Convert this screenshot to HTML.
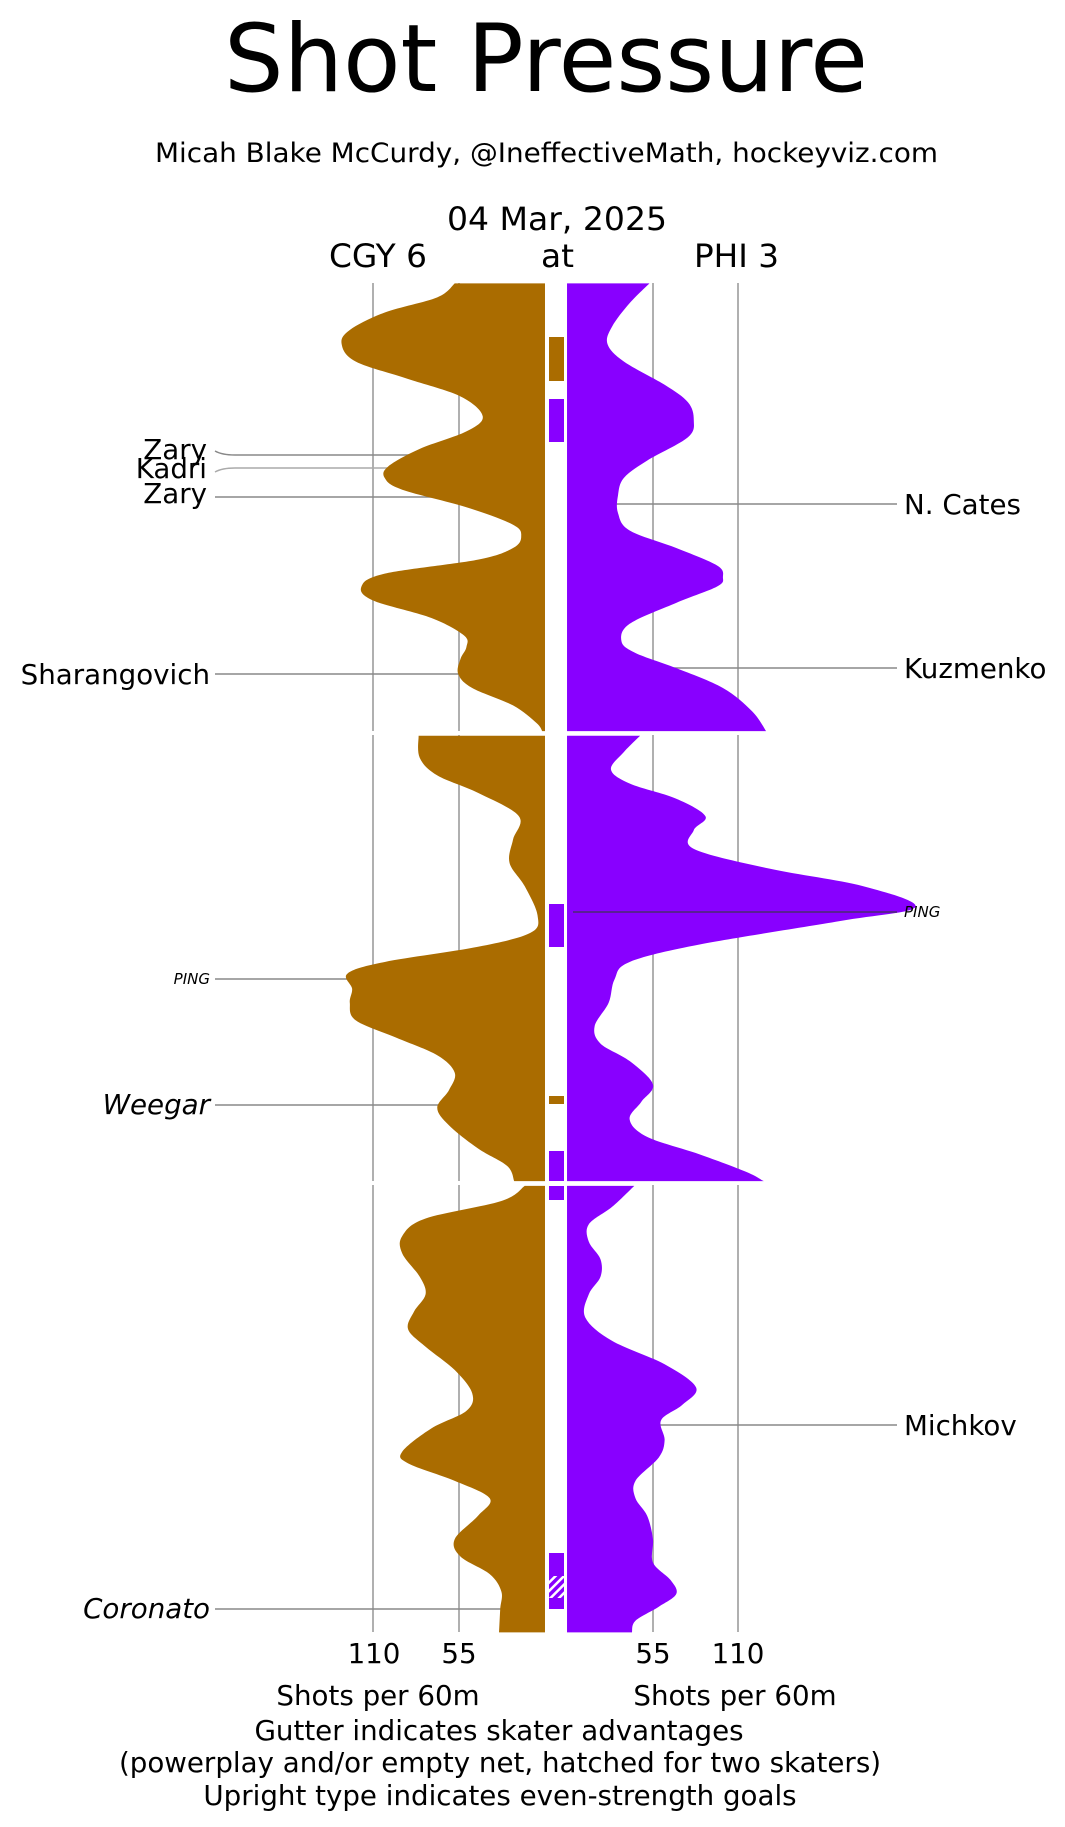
<!DOCTYPE html>
<html><head><meta charset="utf-8"><style>
html,body{margin:0;padding:0;background:#fff;}
svg{display:block;}
text{font-family:"DejaVu Sans","Liberation Sans",sans-serif;fill:#000;}
</style></head><body>
<svg width="1065" height="1827" viewBox="0 0 1065 1827" xmlns="http://www.w3.org/2000/svg">
<defs>
<pattern id="hatch" width="6" height="6" patternUnits="userSpaceOnUse" patternTransform="rotate(45)">
<rect width="6" height="6" fill="#8800ff"/><rect width="2.5" height="6" fill="#fff"/>
</pattern>
</defs>
<text x="224" y="91" font-size="94" textLength="644" lengthAdjust="spacingAndGlyphs">Shot Pressure</text>
<text x="155" y="162" font-size="27" textLength="783" lengthAdjust="spacingAndGlyphs">Micah Blake McCurdy, @IneffectiveMath, hockeyviz.com</text>
<text x="447" y="230" font-size="32" textLength="220" lengthAdjust="spacingAndGlyphs">04 Mar, 2025</text>
<text x="329" y="267" font-size="32" textLength="98" lengthAdjust="spacingAndGlyphs">CGY 6</text>
<text x="541" y="267" font-size="32" textLength="33" lengthAdjust="spacingAndGlyphs">at</text>
<text x="694" y="267" font-size="32" textLength="85" lengthAdjust="spacingAndGlyphs">PHI 3</text>

<g stroke="#b0b0b0" stroke-width="2">
<line x1="373" y1="283" x2="373" y2="731"/><line x1="459" y1="283" x2="459" y2="731"/>
<line x1="653" y1="283" x2="653" y2="731"/><line x1="738" y1="283" x2="738" y2="731"/>
<line x1="373" y1="735" x2="373" y2="1181"/><line x1="459" y1="735" x2="459" y2="1181"/>
<line x1="653" y1="735" x2="653" y2="1181"/><line x1="738" y1="735" x2="738" y2="1181"/>
<line x1="373" y1="1185" x2="373" y2="1632"/><line x1="459" y1="1185" x2="459" y2="1632"/>
<line x1="653" y1="1185" x2="653" y2="1632"/><line x1="738" y1="1185" x2="738" y2="1632"/>
</g>

<g stroke="#888" stroke-width="1.4" fill="none">
<path d="M215,451 Q222,455 235,455 L500,455"/>
<path d="M215,472 Q222,468 235,468 L500,468" stroke="#aaa"/>
<line x1="215" y1="497" x2="500" y2="497"/>
<line x1="215" y1="674" x2="500" y2="674"/>
<line x1="215" y1="979" x2="450" y2="979"/>
<line x1="215" y1="1105" x2="500" y2="1105"/>
<line x1="215" y1="1609" x2="520" y2="1609"/>
<line x1="600" y1="504" x2="897" y2="504"/>
<line x1="600" y1="668" x2="897" y2="668"/>
<line x1="640" y1="1425" x2="897" y2="1425"/>
</g>

<g transform="scale(1.166)">
<path class="sm" data-b="467.4" fill="#aa6c00" d="M467.4,243 L390,243 L375,255 L330,268 L300,283 L293,295 L305,310 L350,325 L395,340 L414,357 L400,370 L360,385 L333,400 L330,410 L345,420 L400,435 L440,450 L447,460 L440,470 L410,480 L330,492 L310,503 L320,515 L370,530 L398,545 L400,555 L395,565 L393,578 L405,590 L440,605 L460,620 L465,627 L467.4,627 Z"/>
<path class="sm" fill="#8800ff" d="M486.3,243 L557,243 L540,260 L525,280 L521,295 L535,310 L570,330 L590,345 L595,360 L590,375 L555,395 L535,410 L530,425 L530,440 L540,455 L580,470 L615,485 L620,495 L615,503 L580,517 L540,535 L533,550 L545,560 L580,573 L620,590 L645,610 L657,627 L486.3,627 Z"/>
<path class="sm" fill="#aa6c00" d="M467.4,631 L359,631 L360,650 L375,665 L410,680 L445,700 L440,720 L437,740 L450,760 L461,785 L455,800 L410,812 L330,825 L298,835 L302,848 L300,860 L305,875 L340,890 L375,905 L390,920 L385,935 L375,950 L385,965 L410,985 L435,1000 L441,1013 L467.4,1013 Z"/>
<path class="sm" fill="#8800ff" d="M486.3,631 L549,631 L535,645 L524,660 L540,672 L580,685 L605,700 L595,712 L595,728 L660,745 L740,760 L785,778 L720,790 L600,810 L540,825 L527,840 L522,860 L510,880 L515,895 L540,910 L560,930 L550,945 L540,960 L555,975 L600,990 L640,1005 L655,1013 L486.3,1013 Z"/>
<path class="sm" fill="#aa6c00" d="M467.4,1017 L450,1017 L430,1030 L365,1045 L345,1060 L345,1075 L360,1095 L365,1110 L355,1125 L350,1140 L365,1155 L390,1175 L405,1195 L400,1210 L370,1225 L345,1245 L350,1255 L390,1270 L420,1285 L410,1300 L390,1320 L395,1335 L420,1350 L430,1365 L429,1380 L428,1400 L467.4,1400 Z"/>
<path class="sm" fill="#8800ff" d="M486.3,1017 L544,1017 L525,1035 L505,1050 L505,1065 L515,1080 L515,1095 L505,1110 L502,1130 L525,1150 L570,1170 L597,1190 L585,1205 L567,1218 L570,1235 L565,1250 L545,1270 L545,1285 L555,1300 L560,1320 L560,1340 L575,1355 L580,1367 L565,1378 L545,1390 L542,1400 L486.3,1400 Z"/>
</g>

<rect x="549" y="337" width="15" height="44" fill="#aa6c00"/>
<rect x="549" y="399" width="15" height="43" fill="#8800ff"/>
<rect x="549" y="904" width="15" height="43" fill="#8800ff"/>
<rect x="549" y="1096" width="15" height="8" fill="#aa6c00"/>
<rect x="549" y="1151" width="15" height="30" fill="#8800ff"/>
<rect x="549" y="1186" width="15" height="14" fill="#8800ff"/>
<rect x="549" y="1553" width="15" height="56" fill="#8800ff"/>
<rect x="549" y="1576" width="15" height="22" fill="url(#hatch)"/>

<line x1="573" y1="912" x2="897" y2="912" stroke="#4a2a70" stroke-width="1.4"/>

<g font-size="27.7">
<text x="207" y="459" text-anchor="end">Zary</text>
<text x="207" y="478" text-anchor="end">Kadri</text>
<text x="207" y="503" text-anchor="end">Zary</text>
<text x="210" y="684" text-anchor="end">Sharangovich</text>
<text x="210" y="1114" text-anchor="end" font-style="italic">Weegar</text>
<text x="210" y="1618" text-anchor="end" font-style="italic">Coronato</text>
<text x="904" y="514">N. Cates</text>
<text x="904" y="678">Kuzmenko</text>
<text x="904" y="1435">Michkov</text>
</g>
<text x="210" y="984" text-anchor="end" font-size="15" font-style="italic">PING</text>
<text x="904" y="917" font-size="15" font-style="italic">PING</text>

<g font-size="27.7" text-anchor="middle">
<text x="374" y="1663">110</text>
<text x="459" y="1663">55</text>
<text x="653" y="1663">55</text>
<text x="738" y="1663">110</text>
<text x="378" y="1705">Shots per 60m</text>
<text x="735" y="1705">Shots per 60m</text>
<text x="499" y="1740">Gutter indicates skater advantages</text>
<text x="500" y="1772">(powerplay and/or empty net, hatched for two skaters)</text>
<text x="500" y="1805">Upright type indicates even-strength goals</text>
</g>
</svg>
<script>
(function(){
var ps=document.querySelectorAll('path.sm');
for(var k=0;k<ps.length;k++){
 var d=ps[k].getAttribute('d').replace(/[MLZ]/g,' ').trim().split(/\s+/);
 var pts=d.map(function(s){var a=s.split(',');return [+a[0],+a[1]];});
 // first two and last point are baseline/top anchors; smooth the middle chain pts[1..n-2]
 var n=pts.length;
 var chain=pts.slice(1,n-1);
 var out='M'+pts[0][0]+','+pts[0][1]+' L'+chain[0][0]+','+chain[0][1];
 for(var i=0;i<chain.length-1;i++){
  var p0=chain[Math.max(0,i-1)],p1=chain[i],p2=chain[i+1],p3=chain[Math.min(chain.length-1,i+2)];
  var c1x=p1[0]+(p2[0]-p0[0])/6,c1y=p1[1]+(p2[1]-p0[1])/6;
  var c2x=p2[0]-(p3[0]-p1[0])/6,c2y=p2[1]-(p3[1]-p1[1])/6;
  out+=' C'+c1x.toFixed(2)+','+c1y.toFixed(2)+' '+c2x.toFixed(2)+','+c2y.toFixed(2)+' '+p2[0]+','+p2[1];
 }
 out+=' L'+pts[n-1][0]+','+pts[n-1][1]+' Z';
 ps[k].setAttribute('d',out);
}
})();
</script>
</body></html>
